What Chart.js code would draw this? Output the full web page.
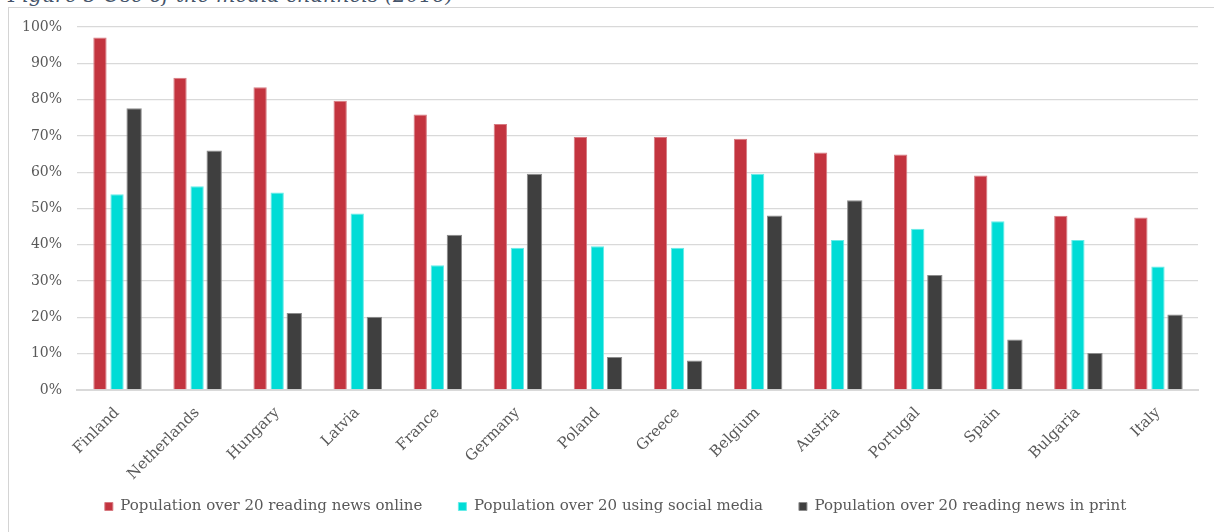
<!DOCTYPE html>
<html>
<head>
<meta charset="utf-8">
<script src="https://cdn.jsdelivr.net/npm/chart.js@4/dist/chart.umd.min.js"></script>
<style>
  html, body { margin: 0; padding: 0; background: #fff; }
  body { width: 1214px; height: 532px; position: relative; overflow: hidden; }
  .caption { position: absolute; left: 8px; top: -17px; font: italic 20.5px "DejaVu Serif", serif; color: #44546a; white-space: nowrap; }
  .frame { position: absolute; left: 8px; top: 7px; width: 1300px; height: 600px; border-left: 1px solid #d4d4d4; border-top: 1px solid #d4d4d4; }
  .wrap { position: absolute; left: 0; top: 0; width: 1214px; height: 532px; }
</style>
</head>
<body>
<div class="caption">Figure 5 Use of the media channels (2016)</div>
<div class="frame"></div>
<div class="wrap"><canvas id="chart"></canvas></div>
<script>
// countries, ordered by share reading news online
const countries = ['Finland','Netherlands','Hungary','Latvia','France','Germany','Poland','Greece','Belgium','Austria','Portugal','Spain','Bulgaria','Italy'];
const newsOnline  = [97.1, 86.0, 83.4, 79.7, 75.9, 73.3, 69.7, 69.7, 69.2, 65.4, 64.9, 59.1, 48.0, 47.5];
const socialMedia = [53.9, 56.1, 54.4, 48.6, 34.4, 39.2, 39.6, 39.2, 59.6, 41.3, 44.4, 46.5, 41.3, 34.0];
const newsPrint   = [77.6, 66.0, 21.2, 20.2, 42.8, 59.6,  9.1,  8.1, 48.1, 52.3, 31.7, 13.9, 10.2, 20.8];
const seriesNames = ['Population over 20 reading news online','Population over 20 using social media','Population over 20 reading news in print'];

const TEXT = '#595959';
const GRID = '#d9d9d9';
const FONT = '"DejaVu Serif", serif';

const ds = (label, data, color, edge, bp) => ({
  label, data, backgroundColor: color, borderColor: edge, borderWidth: 1,
  categoryPercentage: 0.64, barPercentage: bp
});

// scales clip their labels to their own boxes; widen those boxes once laid out
// so the rotated names and the % labels are not cut
const looseLabels = {
  id: 'looseLabels',
  afterLayout(chart){
    chart.scales.x.bottom = chart.height;
    chart.scales.y.left = 0;
  }
};

new Chart(el('chart'), {
  type: 'bar',
  data: {
    labels: countries,
    datasets: [
      ds(seriesNames[0], newsOnline, '#c3343f', '#d77a81', 0.78),
      ds(seriesNames[1], socialMedia, '#00dcd6', '#66ece8', 0.78),
      ds(seriesNames[2], newsPrint, '#3f3f3f', '#8c8c8c', 0.9)
    ]
  },
  plugins: [looseLabels],
  options: {
    responsive: true,
    maintainAspectRatio: false,
    animation: false,
    layout: { padding: { left: 33, right: 16, top: 27, bottom: 8 } },
    plugins: {
      tooltip: { enabled: false },
      legend: {
        position: 'bottom',
        labels: {
          boxWidth: 8, boxHeight: 8, padding: 36,
          color: TEXT, font: { family: FONT, size: 15 }
        }
      }
    },
    scales: {
      x: {
        grid: { display: false },
        border: { color: GRID, width: 2 },
        ticks: { color: TEXT, font: { family: FONT, size: 15 }, minRotation: 45, maxRotation: 45, padding: 6 },
        afterFit: s => { s.height = 73; }
      },
      y: {
        min: 0, max: 100,
        border: { display: false },
        grid: { color: GRID, lineWidth: 1.3, drawTicks: false },
        ticks: { stepSize: 10, color: TEXT, font: { family: FONT, size: 14 }, padding: 15, callback: v => v + '%' },
        afterFit: s => { s.width = 44; }
      }
    }
  }
});

function el(id){ return document.getElementById(id); }
</script>
</body>
</html>
